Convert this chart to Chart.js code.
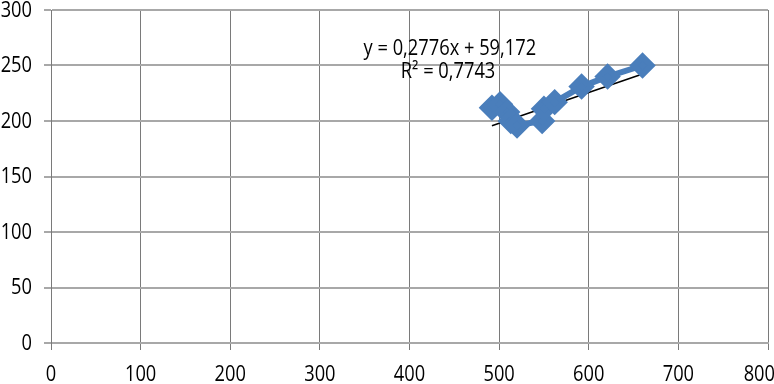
<!DOCTYPE html>
<html>
<head>
<meta charset="utf-8">
<script src="https://cdn.jsdelivr.net/npm/chart.js@4/dist/chart.umd.min.js"></script>
<style>
  html, body { margin: 0; padding: 0; background: #fff; }
  #wrap { width: 774px; height: 384px; }
</style>
</head>
<body>
<div id="wrap"><canvas id="scatterChart"></canvas></div>
<script>
// values
const xValues = [492, 501, 509, 513, 520, 548, 550, 562, 592, 621, 660];
const yValues = [212, 215, 208, 200, 196, 200, 211, 217, 231, 240, 250];
const trendSlope = 0.2776;
const trendIntercept = 59.172;
const trendLabels = ['y = 0,2776x + 59,172', 'R² = 0,7743'];

const FONT = '21px "Open Sans", "Liberation Sans", sans-serif';
const SQUEEZE = 0.87;   // the original text is a narrow face
const TEXT = '#000';
const HGRID = '#a8a8a8';
const VGRID = '#7a7a7a';

const points = xValues.map((x, i) => ({ x: x, y: yValues[i] }));
const xMin = Math.min(...xValues);
const xMax = Math.max(...xValues);
const trend = [
  { x: xMin, y: trendSlope * xMin + trendIntercept },
  { x: xMax, y: trendSlope * xMax + trendIntercept }
];

function narrowText(ctx, text, x, y, align) {
  ctx.save();
  ctx.font = FONT;
  ctx.fillStyle = TEXT;
  ctx.textBaseline = 'middle';
  const w = ctx.measureText(text).width * SQUEEZE;
  let left = x;
  if (align === 'center') left = x - w / 2;
  if (align === 'right') left = x - w;
  ctx.translate(left, y);
  ctx.scale(SQUEEZE, 1);
  ctx.textAlign = 'left';
  ctx.fillText(text, 0, 0);
  ctx.restore();
  return w;
}

// tick labels + trendline equation, drawn narrow like the original
const narrowLabels = {
  id: 'narrowLabels',
  afterDraw(chart) {
    const ctx = chart.ctx;
    const xs = chart.scales.x;
    const ys = chart.scales.y;
    const area = chart.chartArea;
    ctx.save();
    ctx.font = FONT;
    xs.ticks.forEach(t => {
      const label = String(t.value);
      const w = ctx.measureText(label).width * SQUEEZE;
      let cx = xs.getPixelForValue(t.value);
      cx = Math.min(cx, chart.width - w / 2 + 1);
      narrowText(ctx, label, cx, area.bottom + 32, 'center');
    });
    ys.ticks.forEach(t => {
      narrowText(ctx, String(t.value), area.left - 19, ys.getPixelForValue(t.value) + 1, 'right');
    });
    narrowText(ctx, trendLabels[0], xs.getPixelForValue(445), ys.getPixelForValue(265), 'center');
    narrowText(ctx, trendLabels[1], xs.getPixelForValue(443), ys.getPixelForValue(244), 'center');
    ctx.restore();
  }
};

new Chart(document.getElementById('scatterChart'), {
  type: 'scatter',
  data: {
    datasets: [{
      data: points,
      showLine: true,
      borderColor: '#4a7ebb',
      backgroundColor: '#4a7ebb',
      borderWidth: 6,
      pointStyle: 'rectRot',
      pointRadius: 9,
      pointHoverRadius: 9
    }, {
      data: trend,
      showLine: true,
      borderColor: '#000',
      borderWidth: 1.5,
      pointRadius: 0
    }]
  },
  options: {
    responsive: true,
    maintainAspectRatio: false,
    animation: false,
    layout: { autoPadding: false, padding: { top: 10, right: 6, left: 0, bottom: 0 } },
    plugins: { legend: { display: false }, tooltip: { enabled: false } },
    scales: {
      x: {
        type: 'linear',
        min: 0,
        max: 800,
        afterFit: scale => { scale.height = 41; },
        ticks: { stepSize: 100, display: false },
        grid: { color: VGRID, lineWidth: 1, tickLength: 7, tickColor: VGRID },
        border: { color: HGRID, width: 2 }
      },
      y: {
        min: 0,
        max: 300,
        afterFit: scale => { scale.width = 51; },
        ticks: { stepSize: 50, display: false },
        grid: { color: HGRID, lineWidth: 2, tickLength: 7, tickColor: HGRID },
        border: { color: VGRID, width: 1 }
      }
    }
  },
  plugins: [narrowLabels]
});
</script>
</body>
</html>
